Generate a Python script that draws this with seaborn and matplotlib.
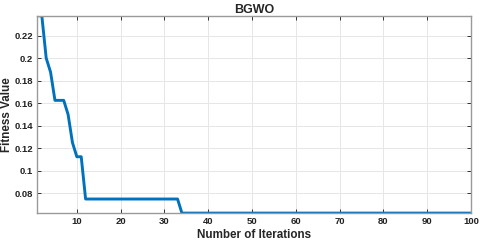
import numpy as np
import pandas as pd
import matplotlib
matplotlib.use("Agg")
import matplotlib.pyplot as plt
import seaborn as sns

# convergence curve of BGWO (best fitness per iteration)
iterations = list(range(1, 101))
fitness = ([0.2375, 0.2375, 0.2, 0.1875, 0.1625, 0.1625, 0.1625, 0.15, 0.125, 0.1125, 0.1125]
           + [0.075] * 22
           + [0.0625] * 67)

df = pd.DataFrame({"Iteration": iterations, "Fitness": fitness})

sns.set_theme(style="whitegrid")
plt.rcParams['font.family'] = ['Liberation Sans', 'DejaVu Sans']

fig = plt.figure(figsize=(4.8, 2.43), dpi=100)
ax = fig.add_axes([0.078, 0.123, 0.903, 0.812])

sns.lineplot(data=df, x="Iteration", y="Fitness", color="#0072BD", linewidth=2.1, ax=ax)

ax.set_xlim(1, 100)
ax.set_ylim(min(fitness), max(fitness))
ax.set_xticks([10, 20, 30, 40, 50, 60, 70, 80, 90, 100])
ax.set_yticks([0.08, 0.1, 0.12, 0.14, 0.16, 0.18, 0.2, 0.22])
ax.set_yticklabels(["0.08", "0.1", "0.12", "0.14", "0.16", "0.18", "0.2", "0.22"])

ax.grid(True, color="#e6e6e6", linewidth=0.7)
for s in ax.spines.values():
    s.set_visible(True)
    s.set_color("#9a9a9a")
    s.set_linewidth(1.0)
ax.tick_params(direction="in", length=3, width=0.7, color="#333333",
               top=True, right=True, bottom=True, left=True,
               labelsize=6.8, labelcolor="#222222", pad=3)
for lab in ax.get_xticklabels() + ax.get_yticklabels():
    lab.set_fontweight("bold")

ax.set_title("BGWO", fontsize=9, fontweight="bold", pad=2)
ax.set_xlabel("Number of Iterations", fontsize=8.4, fontweight="bold", labelpad=2)
ax.set_ylabel("Fitness Value", fontsize=8.4, fontweight="bold", labelpad=1)

fig.savefig("out.png", dpi=100)
